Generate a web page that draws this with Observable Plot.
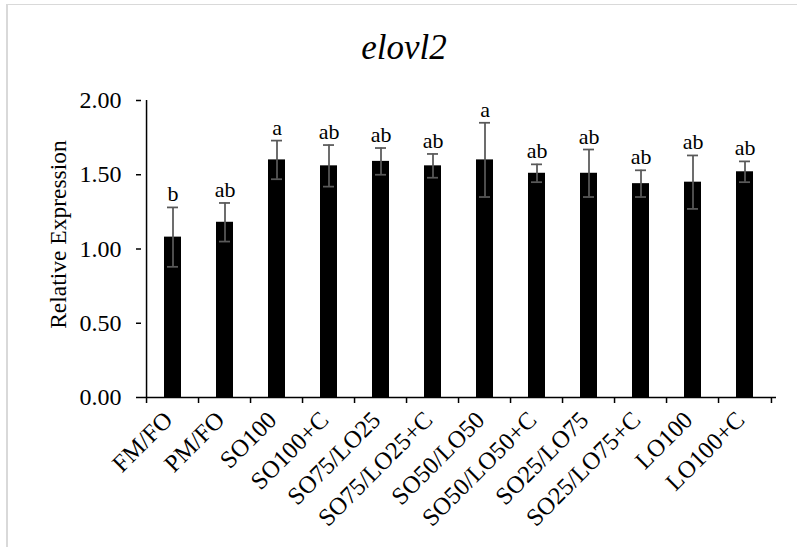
<!DOCTYPE html>
<html>
<head>
<meta charset="utf-8">
<script src="https://cdn.jsdelivr.net/npm/d3@7"></script>
<script src="https://cdn.jsdelivr.net/npm/@observablehq/plot@0.6"></script>
<style>
  html, body { margin: 0; padding: 0; background: #fff; }
  #wrap { position: relative; width: 797px; height: 547px; overflow: hidden; background: #fff;
          font-family: "Liberation Serif", "Times New Roman", serif; color: #000; }
  #border { position: absolute; left: 6px; top: 4px; width: 900px; height: 700px;
            border-top: 1.5px solid #d9d9d9; border-left: 2px solid #d9d9d9; }
  #title { position: absolute; left: 0; top: 30px; width: 808px; text-align: center;
           font-family: "Liberation Serif", "Times New Roman", serif;
           font-size: 35px; line-height: 35px; font-style: italic; }
  #ylabel { position: absolute; left: -91.7px; top: 222.5px; width: 300px; height: 23px;
            line-height: 23px; font-size: 23.5px; text-align: center; transform: rotate(-90deg); }
  #chart { position: absolute; left: 0; top: 0; }
</style>
</head>
<body>
<div id="wrap">
  <div id="border"></div>
  <div id="chart"></div>
  <div id="title">elovl2</div>
  <div id="ylabel">Relative Expression</div>
</div>
<script>
const categories = ["FM/FO","PM/FO","SO100","SO100+C","SO75/LO25","SO75/LO25+C","SO50/LO50","SO50/LO50+C","SO25/LO75","SO25/LO75+C","LO100","LO100+C"];
const means  = [1.08, 1.18, 1.60, 1.56, 1.59, 1.56, 1.60, 1.51, 1.51, 1.44, 1.45, 1.52];
const errors = [0.20, 0.13, 0.13, 0.14, 0.09, 0.08, 0.25, 0.06, 0.16, 0.09, 0.18, 0.07];
const letters = ["b","ab","a","ab","ab","ab","a","ab","ab","ab","ab","ab"];
const yTicks = [0, 0.5, 1, 1.5, 2];

const data = categories.map((c, i) => ({cat: c, mean: means[i], err: errors[i], letter: letters[i]}));

const W = 797, H = 547, mL = 141, mR = 21, mT = 100, mB = 150;
const step = (W - mL - mR) / categories.length;
const errColor = "#595959";
const serif = "'Liberation Serif', 'Times New Roman', serif";

const chart = Plot.plot({
  width: W, height: H,
  marginLeft: mL, marginRight: mR, marginTop: mT, marginBottom: mB,
  style: {fontFamily: serif, fontSize: "22px", color: "#000", background: "transparent", overflow: "visible"},
  x: {domain: categories, paddingInner: 0.68, paddingOuter: 0.34, label: null, axis: null},
  y: {domain: [0, 2], label: null, axis: null},
  marks: [
    Plot.barY(data, {x: "cat", y: "mean", fill: "#000"}),
    Plot.ruleX(data, {x: "cat", y1: d => d.mean - d.err, y2: d => d.mean + d.err, stroke: errColor, strokeWidth: 1.75}),
    Plot.tickY(data, {x: "cat", y: d => d.mean - d.err, stroke: errColor, strokeWidth: 1.75, insetLeft: 3, insetRight: 3}),
    Plot.tickY(data, {x: "cat", y: d => d.mean + d.err, stroke: errColor, strokeWidth: 1.75, insetLeft: 3, insetRight: 3}),
    Plot.text(data, {x: "cat", y: d => d.mean + d.err, text: "letter", lineAnchor: "bottom", dy: -6, fontSize: 22, fontFamily: serif, fill: "#000"}),
    Plot.ruleY([0], {stroke: "#000", strokeWidth: 1.5}),
    Plot.ruleX([categories[0]], {y1: 0, y2: 2, dx: -step / 2, stroke: "#000", strokeWidth: 1.5}),
    // y ticks and labels
    Plot.axisY(yTicks, {tickFormat: d => d.toFixed(2), tickSize: 5, tickPadding: 15, strokeWidth: 1.5, label: null, fontSize: 24, fontFamily: serif}),
    // x category labels
    Plot.text(categories, {x: d => d, frameAnchor: "bottom", text: d => d, rotate: -45, textAnchor: "end", lineAnchor: "bottom", dy: 24, dx: 1, fontSize: 24.5, fontFamily: serif, fill: "#000"}),
    // x boundary ticks
    Plot.axisX({tickSize: 6, tickFormat: () => "", dx: -step / 2, strokeWidth: 1.5, label: null}),
    Plot.axisX([categories[categories.length - 1]], {tickSize: 6, tickFormat: () => "", dx: step / 2, strokeWidth: 1.5, label: null})
  ]
});
document.getElementById("chart").appendChild(chart);
</script>
</body>
</html>
